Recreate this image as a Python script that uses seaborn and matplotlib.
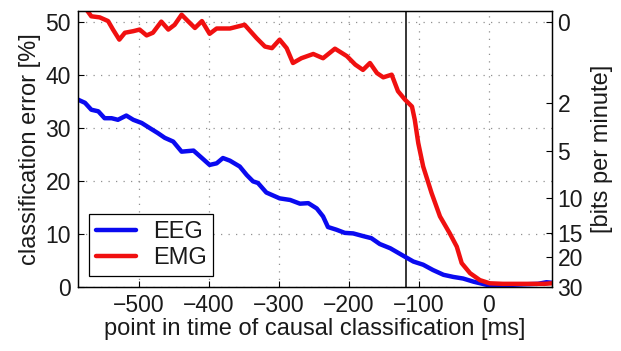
"""
Classification error of EEG vs EMG over time of causal classification
"""

import numpy as np
import pandas as pd
import matplotlib
matplotlib.use("Agg")
import matplotlib.pyplot as plt
import seaborn as sns

# Data
eeg_t = [-587, -577, -568, -558, -549, -539, -530, -518, -508, -496, -484, -473,
         -463, -451, -439, -422, -410, -399, -389, -380, -370, -356, -346, -337,
         -330, -318, -299, -284, -270, -258, -246, -237, -230, -218, -206, -194,
         -180, -168, -156, -141, -120, -108, -94, -80, -65, -51, -37, -22, -3,
         10, 30, 50, 70, 82, 90]
eeg_err = [35.3, 34.7, 33.4, 33.1, 31.8, 31.8, 31.5, 32.3, 31.5, 30.9, 29.9, 29.0,
           28.1, 27.4, 25.5, 25.7, 24.3, 23.0, 23.3, 24.3, 23.8, 22.7, 21.1, 19.9,
           19.6, 17.8, 16.7, 16.4, 15.7, 15.8, 14.8, 13.3, 11.3, 10.8, 10.2, 10.1,
           9.6, 9.2, 8.1, 7.3, 5.7, 4.8, 4.2, 3.2, 2.3, 1.9, 1.6, 1.0, 0.4,
           0.4, 0.4, 0.5, 0.6, 0.9, 0.8]

emg_t = [-580, -574, -568, -556, -544, -537, -528, -520, -508, -499, -489, -480,
         -468, -458, -449, -439, -430, -420, -410, -399, -389, -370, -349, -332,
         -320, -310, -299, -289, -280, -268, -251, -237, -220, -203, -191, -180,
         -170, -160, -151, -139, -130, -120, -110, -106, -101, -94, -82, -70,
         -56, -46, -39, -27, -13, 1, 20, 40, 60, 80, 90]
emg_err = [53.0, 52.1, 51.0, 50.8, 50.1, 48.5, 46.6, 47.9, 48.2, 48.5, 47.4, 47.9,
           50.0, 48.5, 49.4, 51.3, 50.1, 48.8, 50.1, 47.7, 48.7, 48.7, 49.4, 46.9,
           45.3, 45.0, 46.6, 45.0, 42.2, 43.1, 43.9, 43.1, 44.9, 43.5, 41.9, 40.9,
           42.2, 40.3, 39.5, 40.0, 36.9, 35.3, 34.0, 31.5, 27.1, 22.7, 17.7, 13.3,
           10.1, 7.6, 4.5, 2.6, 1.3, 0.7, 0.6, 0.6, 0.6, 0.6, 0.7]

onset_t = -119

x_ticks = [-500, -400, -300, -200, -100, 0]
y_ticks = [0, 10, 20, 30, 40, 50]
bits_labels = ["0", "2", "5", "10", "15", "20", "30"]
bits_pos = [50, 34.6, 25.6, 16.8, 10.2, 5.7, 0]

df = pd.concat([
    pd.DataFrame({"t": eeg_t, "err": eeg_err, "signal": "EEG"}),
    pd.DataFrame({"t": emg_t, "err": emg_err, "signal": "EMG"}),
], ignore_index=True)

sns.set_style("white")
plt.rcParams["font.family"] = ["Liberation Sans", "DejaVu Sans"]
plt.rcParams["text.color"] = "#1a1a1a"
plt.rcParams["axes.labelcolor"] = "#1a1a1a"

FS_TICK = 16.5
FS_LAB = 17

fig = plt.figure(figsize=(6.21, 3.51), dpi=100)
ax = fig.add_axes([0.1256, 0.1823, 0.7633, 0.7864])

sns.lineplot(data=df, x="t", y="err", hue="signal",
             palette={"EEG": "#0a0af0", "EMG": "#f01010"},
             linewidth=3.2, ax=ax)

ax.axvline(onset_t, color="black", linewidth=1.1, zorder=1)

ax.set_xlim(-587, 90)
ax.set_ylim(0, 52)
ax.set_xticks(x_ticks)
ax.set_xticklabels(["\u2212" + str(-v) if v < 0 else str(v) for v in x_ticks])
ax.set_yticks(y_ticks)
ax.grid(True, color="#909090", linestyle=(0, (1, 5)), linewidth=0.9)
ax.tick_params(direction="in", length=4, width=0.8, labelsize=FS_TICK, pad=5,
               colors="black", labelcolor="#1a1a1a", bottom=True, left=True)
for s in ax.spines.values():
    s.set_color("black")
    s.set_linewidth(0.9)

ax.set_xlabel("point in time of causal classification [ms]", fontsize=FS_LAB, labelpad=1)
ax.set_ylabel("classification error [%]", fontsize=FS_LAB, labelpad=3)

leg = ax.legend(loc="lower left", bbox_to_anchor=(0.023, 0.04), fontsize=FS_LAB,
                frameon=True, fancybox=False, framealpha=1, edgecolor="black",
                handlelength=1.7, handletextpad=0.7, borderpad=0.3,
                labelspacing=0.15, borderaxespad=0.0)
leg.get_frame().set_linewidth(0.9)

ax2 = ax.twinx()
ax2.set_ylim(0, 52)
ax2.set_yticks(bits_pos)
ax2.set_yticklabels(bits_labels)
ax2.tick_params(direction="in", length=4, width=0.8, labelsize=FS_TICK, pad=4,
                colors="black", labelcolor="#1a1a1a", right=True)
ax2.set_ylabel("[bits per minute]", fontsize=FS_LAB, labelpad=6)
for s in ax2.spines.values():
    s.set_color("black")
    s.set_linewidth(0.9)

fig.savefig("out.png", dpi=100, facecolor="white")
